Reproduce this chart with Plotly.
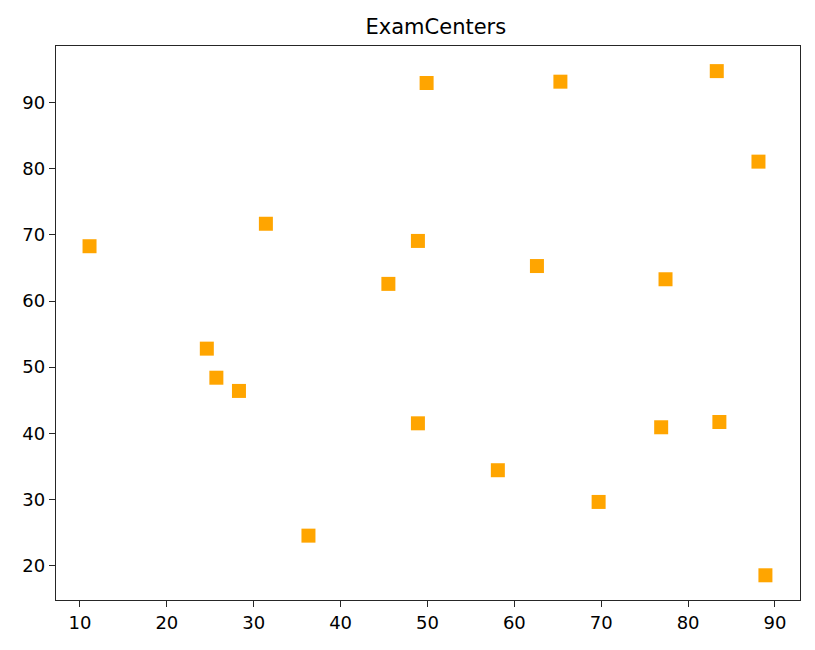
import plotly.graph_objects as go

# exam centre positions
x_pos = [11.1, 31.4, 45.5, 24.6, 25.7, 28.3, 36.3, 49.9, 65.3, 83.3,
         88.1, 48.9, 62.6, 77.4, 48.9, 58.1, 69.7, 76.9, 83.6, 88.9]
y_pos = [68.3, 71.7, 62.6, 52.8, 48.4, 46.4, 24.5, 93.0, 93.2, 94.8,
         81.1, 69.1, 65.3, 63.3, 41.5, 34.4, 29.6, 40.9, 41.7, 18.5]

x_ticks = [10, 20, 30, 40, 50, 60, 70, 80, 90]
y_ticks = [20, 30, 40, 50, 60, 70, 80, 90]

fig = go.Figure()
fig.add_trace(go.Scatter(
    x=x_pos, y=y_pos, mode="markers",
    marker=dict(symbol="square", size=14, color="#FFA500", line=dict(width=0)),
    showlegend=False,
))

axis_style = dict(
    showline=True, linecolor="#262626", linewidth=1.4, mirror=True,
    ticks="outside", ticklen=6, tickwidth=1.4, tickcolor="#262626",
    showgrid=False, zeroline=False,
    tickfont=dict(family="DejaVu Sans", size=18, color="#000000"),
)

# the page adds an 8px body margin, so margins are trimmed to compensate
fig.update_layout(
    width=815, height=650,
    margin=dict(l=48, r=23, t=38, b=58),
    paper_bgcolor="white", plot_bgcolor="white",
    title=dict(text="ExamCenters", x=0.525, xanchor="center", y=0.972, yanchor="middle",
               font=dict(family="DejaVu Sans", size=21, color="#000000")),
    xaxis=dict(range=[7.24, 92.88], tickvals=x_ticks, **axis_style),
    yaxis=dict(range=[14.76, 98.6], tickvals=y_ticks, **axis_style),
)

fig.write_html("out.html")
